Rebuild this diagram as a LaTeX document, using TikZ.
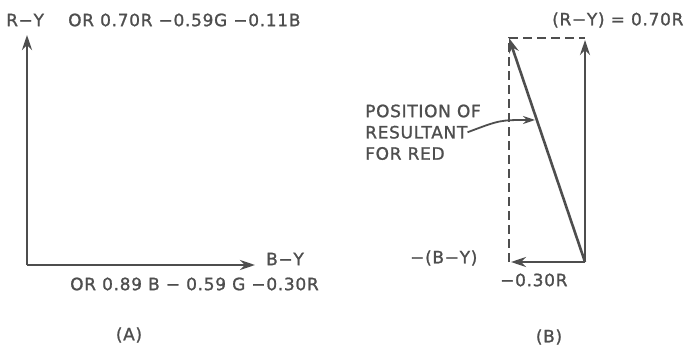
\documentclass[tikz,border=0pt]{standalone}
\usepackage{fontspec}
\setmainfont{DejaVu Sans}[LetterSpace=4, FakeBold=1.2]
\usetikzlibrary{arrows.meta,positioning}
\definecolor{ink}{HTML}{4E4E4E}
\tikzset{
  lbl/.style={font=\fontsize{17}{19}\selectfont, text=ink, inner sep=0pt},
  vec/.style={line width=2.6pt, draw=ink, ->},
  guide/.style={line width=2pt, draw=ink, dash pattern=on 9pt off 5pt}
}

\begin{document}
\begin{tikzpicture}[x=1pt, y=-1pt, >={Stealth[length=15pt,width=10pt]}]
  \useasboundingbox (0,0) rectangle (700,352);
  % (A) axes
  \coordinate (oA) at (27,265);
  \coordinate (ryA) at (27,35);
  \coordinate (byA) at (255,265);
  \draw[vec] (oA) -- (ryA);
  \draw[vec] (oA) -- (byA);
  \node[lbl, anchor=west] (ryname) at (6,20) {R−Y};
  \node[lbl, anchor=west] (ryeq) at (68,20) {OR 0.70R −0.59G −0.11B};
  \node[lbl] (byname) at (285,259) {B−Y};
  \node[lbl, anchor=west] (byeq) at (70,284) {OR 0.89 B − 0.59 G −0.30R};
  \node[lbl] (capA) at (129,335) {(A)};
  % (B) vector sum
  \coordinate (oB) at (585,262);
  \coordinate (ryB) at (585,40);
  \coordinate (byB) at (511,262);
  \coordinate (redB) at (509,38);
  \draw[guide] (509,262) -- (509,38) -- (585,38);
  \draw[vec] (oB) -- (ryB);
  \draw[vec] (oB) -- (byB);
  \draw[vec] (oB) -- (redB);
  \node[lbl, anchor=west] (ryBname) at (552,20) {(R−Y) = 0.70R};
  \node[lbl, anchor=west] (byBname) at (410,258) {−(B−Y)};
  \node[lbl, anchor=west] (byBval) at (500,280) {−0.30R};
  \node[lbl] (capB) at (549,337) {(B)};
  % pointer to the resultant
  \node[lbl, anchor=west] (pos1) at (365,111) {POSITION OF};
  \node[lbl, below=8pt of pos1.south west, anchor=north west] (pos2) {RESULTANT};
  \node[lbl, below=8pt of pos2.south west, anchor=north west] (pos3) {FOR RED};
  \coordinate (hit) at (535,120);
  \draw[->, line width=1.8pt, draw=ink, >={Stealth[length=12pt,width=8pt]}]
    (pos2.east) .. controls (500,120) .. (hit);
\end{tikzpicture}
\end{document}
